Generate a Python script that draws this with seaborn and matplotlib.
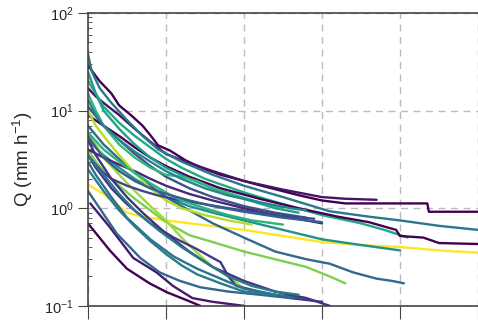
import numpy as np
import pandas as pd
import matplotlib
matplotlib.use('Agg')
import matplotlib.pyplot as plt
import seaborn as sns

# recession events: days since peak and discharge Q (mm/h)
d01 = [0, 1.5, 3, 4, 5.5, 7, 8, 9, 10.5, 12.5, 14.5, 17, 19.5, 22, 24.5, 27, 30, 33, 36, 43.5, 43.7, 50]
q01 = [29, 20, 15, 11.3, 9, 7, 5.6, 4.4, 3.9, 3.1, 2.6, 2.2, 1.95, 1.72, 1.53, 1.36, 1.2, 1.12, 1.12, 1.12, 0.92, 0.92]
d02 = [0, 1, 2, 4, 6, 8, 10, 13, 16, 20, 25, 30, 33, 37]
q02 = [17, 14, 12, 9, 6.5, 4.8, 3.6, 2.9, 2.4, 1.9, 1.55, 1.3, 1.25, 1.22]
d03 = [0, 0.5, 1.5, 3, 5, 7, 9, 12, 16, 20, 25, 31, 36, 40, 45, 50]
q03 = [38, 25, 17, 12, 8, 5.5, 4, 3, 2.2, 1.7, 1.3, 0.93, 0.82, 0.75, 0.66, 0.6]
d04 = [0, 1, 2, 4, 6, 8, 10, 12, 15, 20, 25, 30, 35, 38, 41]
q04 = [20, 15, 11, 7.5, 5.5, 4.2, 3.2, 2.6, 2.0, 1.45, 1.1, 0.85, 0.7, 0.6, 0.5]
d05 = [0, 2, 4, 6, 8, 10, 13, 17, 22, 27, 32, 36, 39.5, 40, 43, 45, 50]
q05 = [9, 7, 5.5, 4.2, 3.3, 2.7, 2.1, 1.6, 1.25, 1.0, 0.82, 0.72, 0.6, 0.52, 0.5, 0.44, 0.43]
d06 = [0, 2, 4, 5, 7, 10, 15, 20, 25, 30, 35, 40, 45, 50]
q06 = [1.75, 1.4, 1.05, 0.9, 0.82, 0.75, 0.67, 0.6, 0.52, 0.45, 0.42, 0.4, 0.37, 0.35]
d07 = [0, 2, 4, 6, 8, 10, 13, 16, 20, 25, 30, 35, 40]
q07 = [5, 3.5, 2.6, 2.0, 1.6, 1.3, 1.05, 0.9, 0.75, 0.6, 0.48, 0.42, 0.37]
d08 = [0, 2, 4, 6, 8, 10, 13, 16, 20, 24, 28, 31, 34, 37, 39, 40.5]
q08 = [7, 4.5, 3.2, 2.3, 1.7, 1.3, 0.95, 0.7, 0.5, 0.36, 0.3, 0.27, 0.22, 0.19, 0.18, 0.17]
d09 = [0, 1, 2, 4, 6, 8, 10, 13, 16, 20, 24, 28, 31, 33]
q09 = [4, 3, 2.4, 1.7, 1.25, 0.95, 0.72, 0.53, 0.45, 0.36, 0.3, 0.25, 0.2, 0.17]
d10 = [0, 1, 2, 4, 6, 8, 10, 12, 14, 16, 18, 20]
q10 = [6, 4.5, 3.3, 2.2, 1.5, 1.05, 0.75, 0.5, 0.35, 0.25, 0.2, 0.15]
d11 = [0, 1, 3, 5, 8, 11, 14, 17, 18, 19, 22, 26, 30]
q11 = [3.5, 2.6, 1.6, 1.1, 0.7, 0.5, 0.38, 0.28, 0.2, 0.16, 0.14, 0.12, 0.11]
d12 = [0, 2.8, 5, 7.9, 10.1, 12.7, 14.4]
q12 = [0.7, 0.37, 0.24, 0.17, 0.138, 0.114, 0.1]
d13 = [0.3, 2.8, 5.8, 8.8, 10.9, 13.4, 16, 20]
q13 = [1.12, 0.64, 0.31, 0.22, 0.16, 0.12, 0.11, 0.1]
d14 = [0, 1, 3, 5, 8, 11, 14, 17, 20, 24, 28]
q14 = [3, 2.2, 1.3, 0.8, 0.48, 0.32, 0.24, 0.19, 0.15, 0.13, 0.12]
d15 = [0, 1, 2, 4, 6, 8, 10, 13, 16, 20, 24, 27]
q15 = [25, 15, 10, 6.5, 4.5, 3.3, 2.6, 2.0, 1.6, 1.25, 1.0, 0.9]
d16 = [0, 2, 4, 6, 8, 10, 13, 16, 20, 24, 28]
q16 = [11, 7, 5, 3.6, 2.7, 2.1, 1.6, 1.3, 1.05, 0.9, 0.8]
d17 = [0, 1, 2, 4, 6, 8, 10, 12, 14, 16, 19, 22, 25]
q17 = [15, 10, 7, 4.5, 3.3, 2.6, 2.2, 2.1, 1.9, 1.6, 1.35, 1.15, 1.0]
d18 = [0, 2, 4, 6, 8, 10, 13, 16, 20, 24, 28, 30]
q18 = [4, 3.3, 2.8, 2.4, 2.0, 1.7, 1.4, 1.2, 1.0, 0.85, 0.75, 0.7]
d19 = [0, 1, 2, 4, 6, 8, 10, 12, 15, 18, 21]
q19 = [10, 7, 5.5, 3.5, 2.3, 1.6, 1.2, 1.0, 0.85, 0.75, 0.68]
d20 = [0, 1, 2, 3, 5, 7, 9, 12, 15, 18, 22, 26, 29]
q20 = [3.5, 2.8, 2.3, 2.0, 1.7, 1.5, 1.35, 1.2, 1.1, 1.0, 0.9, 0.82, 0.78]
d21 = [0, 1, 2, 4, 6, 8, 10, 12, 15, 18, 22, 26, 28]
q21 = [13, 9, 7, 5, 3.8, 3, 2.4, 2, 1.6, 1.35, 1.15, 1.0, 0.95]
d22 = [0, 3.7, 6.7, 9.2, 11.8, 14.4, 18, 22, 26]
q22 = [1.5, 0.55, 0.31, 0.22, 0.18, 0.155, 0.14, 0.13, 0.12]
d23 = [0, 2, 4, 6, 8, 10, 12, 14, 17, 20, 24]
q23 = [2.5, 1.5, 0.95, 0.65, 0.46, 0.34, 0.26, 0.21, 0.17, 0.14, 0.13]
d24 = [0, 2, 4, 6, 8, 10, 12, 15, 18, 21, 25]
q24 = [6, 4, 3, 2.3, 1.8, 1.45, 1.2, 1.0, 0.85, 0.75, 0.68]
d25 = [0, 1, 2, 4, 6, 8, 10, 13, 16, 20, 25, 30]
q25 = [5.5, 4.2, 3.3, 2.4, 1.9, 1.6, 1.4, 1.2, 1.05, 0.92, 0.8, 0.72]
d26 = [0, 1, 3, 5, 7, 10, 13, 16, 20, 24, 28, 31]
q26 = [5, 3.5, 2.0, 1.3, 0.9, 0.55, 0.36, 0.25, 0.18, 0.14, 0.12, 0.1]
d27 = [0, 2, 4, 6, 9, 12, 15, 18, 21, 24, 27]
q27 = [3.5, 2.2, 1.4, 0.95, 0.6, 0.4, 0.28, 0.2, 0.16, 0.14, 0.13]

line_colors = ['#440154', '#471365', '#2a788e', '#22a884', '#440154', '#fde725',
               '#21918c', '#31688e', '#7ad151', '#a0da39', '#443983', '#440154',
               '#481a6c', '#2c728e', '#1f9e89', '#3b528b', '#35b779', '#482878',
               '#b5de2b', '#414487', '#25858e', '#31688e', '#287c8e', '#2db27d',
               '#355f8d', '#46327e', '#2a788e']

days = [d01, d02, d03, d04, d05, d06, d07, d08, d09, d10, d11, d12, d13, d14,
        d15, d16, d17, d18, d19, d20, d21, d22, d23, d24, d25, d26, d27]
flows = [q01, q02, q03, q04, q05, q06, q07, q08, q09, q10, q11, q12, q13, q14,
         q15, q16, q17, q18, q19, q20, q21, q22, q23, q24, q25, q26, q27]

frames = []
for i, (d, q) in enumerate(zip(days, flows)):
    frames.append(pd.DataFrame({'event': f'e{i:02d}', 'day': d, 'Q': q}))
df = pd.concat(frames, ignore_index=True)
palette = {f'e{i:02d}': c for i, c in enumerate(line_colors)}

sns.set_style('ticks')
plt.rcParams['font.family'] = ['Liberation Sans', 'DejaVu Sans']
plt.rcParams['mathtext.fontset'] = 'custom'
plt.rcParams['mathtext.rm'] = 'Liberation Sans'

fig = plt.figure(figsize=(4.78, 3.24), dpi=100)
ax = fig.add_axes([0.184, 0.056, 0.816, 0.904])

sns.lineplot(data=df, x='day', y='Q', hue='event', palette=palette, estimator=None,
             sort=False, legend=False, linewidth=1.7, ax=ax)

ax.set_yscale('log')
ax.set_ylim(0.1, 100)
ax.set_xlim(0, 50)
ax.set_xticks([0, 10, 20, 30, 40, 50])
ax.set_xticklabels([])
ax.set_xlabel('')
ax.set_ylabel('Q (mm h$^{-1}$)', fontsize=13.5, labelpad=6)
ax.tick_params(axis='y', which='major', direction='out', length=7, labelsize=10.5, color='#444444')
ax.tick_params(axis='y', which='minor', direction='in', length=3, color='#444444')
ax.tick_params(axis='x', which='major', direction='out', length=9, color='#444444')

ax.grid(True, which='major', axis='both', color='#bbbbbb', linestyle=(0, (5, 4)), linewidth=1)
ax.set_axisbelow(True)
for s in ['left', 'bottom', 'top']:
    ax.spines[s].set_color('#444444')
    ax.spines[s].set_linewidth(1.2)
ax.spines['right'].set_visible(False)

fig.savefig('out.png', dpi=100)
